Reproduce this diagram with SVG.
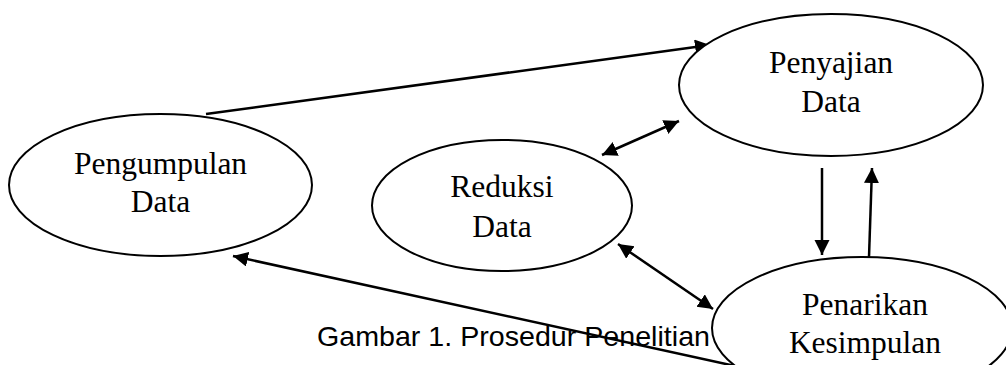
<svg xmlns="http://www.w3.org/2000/svg" width="1006" height="365" viewBox="0 0 1006 365">
<defs>
<style>
.node ellipse{fill:#fff;stroke:#000;stroke-width:2}
.node text{font-family:"Liberation Serif","Times New Roman",serif;font-size:31.5px;fill:#000;text-anchor:middle}
.conn line{stroke:#000;stroke-width:2.5;fill:none}
.cap{font-family:"Liberation Sans",Arial,sans-serif;font-size:28px;fill:#000}
</style>
<marker id="ah" markerUnits="userSpaceOnUse" markerWidth="16" markerHeight="16" viewBox="0 0 16 16" refX="15" refY="7.5" orient="auto-start-reverse">
<path d="M0,0 L15,7.5 L0,15 z" fill="#000"/>
</marker>
</defs>
<rect width="1006" height="365" fill="#fff"/>
<text class="cap" x="317" y="346" textLength="393" lengthAdjust="spacingAndGlyphs">Gambar 1. Prosedur Penelitian</text>
<g id="connectors" class="conn">
<line x1="206" y1="114" x2="710" y2="45" marker-end="url(#ah)"/>
<line x1="602" y1="155" x2="679" y2="121" marker-start="url(#ah)" marker-end="url(#ah)"/>
<line x1="618" y1="244" x2="713" y2="309" marker-start="url(#ah)" marker-end="url(#ah)"/>
<line x1="735" y1="366" x2="233" y2="256" marker-end="url(#ah)"/>
<line x1="822" y1="168" x2="822" y2="255" marker-end="url(#ah)"/>
<line x1="869" y1="257" x2="872" y2="168" marker-end="url(#ah)"/>
</g>
<g id="pengumpulan" class="node">
<ellipse cx="160.5" cy="185" rx="151.5" ry="71"/>
<text x="160.5" y="174">Pengumpulan</text>
<text x="160.5" y="212">Data</text>
</g>
<g id="reduksi" class="node">
<ellipse cx="502" cy="205.5" rx="130" ry="65.5"/>
<text x="502" y="197">Reduksi</text>
<text x="502" y="237">Data</text>
</g>
<g id="penyajian" class="node">
<ellipse cx="831" cy="85" rx="152" ry="71"/>
<text x="831" y="73">Penyajian</text>
<text x="831" y="112">Data</text>
</g>
<g id="penarikan" class="node">
<ellipse cx="862" cy="328" rx="150" ry="71"/>
<text x="865" y="315">Penarikan</text>
<text x="865" y="353">Kesimpulan</text>
</g>
</svg>
